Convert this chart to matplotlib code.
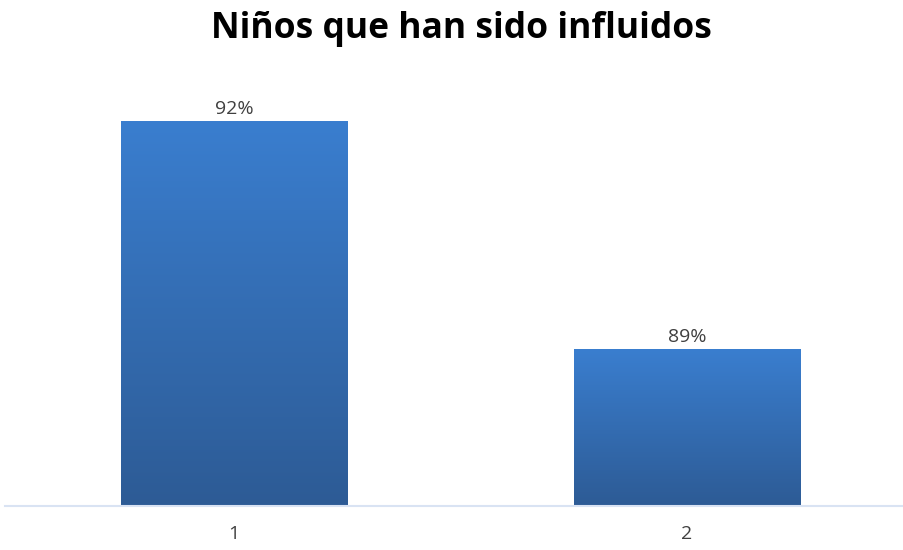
import numpy as np
import matplotlib.pyplot as plt
from matplotlib.colors import LinearSegmentedColormap

categories = ["1", "2"]
values = [92, 89]
labels = ["92%", "89%"]
title = "Niños que han sido influidos"

plt.rcParams["font.family"] = ["Open Sans", "DejaVu Sans"]

fig = plt.figure(figsize=(9.04, 5.5), dpi=100)
ax = fig.add_axes([5 / 904, 44 / 550, 899 / 904, 416 / 550])

x = np.arange(1, len(values) + 1)
bars = ax.bar(x, values, width=0.5, bottom=0, color="#3570B8", edgecolor="#8FB0DC", linewidth=0.6, zorder=2)

ax.set_xlim(0.494, 2.479)
ax.set_ylim(86.934, 92.41)

# vertical gradient inside each bar
cmap = LinearSegmentedColormap.from_list("grad", ["#2D5B95", "#3A7ECF"])
grad = np.linspace(0, 1, 256).reshape(-1, 1)
for b in bars:
    x0, w = b.get_x(), b.get_width()
    y1 = b.get_height()
    im = ax.imshow(grad, cmap=cmap, origin="lower", aspect="auto",
                   extent=[x0, x0 + w, ax.get_ylim()[0], y1], zorder=3)
    im.set_clip_path(b)

for xi, v, lab in zip(x, values, labels):
    ax.annotate(lab, (xi, v), xytext=(0, 2), textcoords="offset points",
                ha="center", va="bottom", fontsize=14, color="#404040")

ax.set_xticks(x)
ax.set_xticklabels(categories, fontsize=14, color="#404040")
ax.tick_params(axis="x", length=0, pad=13.5)
ax.set_yticks([])
for s in ["top", "right", "left"]:
    ax.spines[s].set_visible(False)
ax.spines["bottom"].set_color("#D9E3F3")
ax.spines["bottom"].set_linewidth(1.5)
ax.spines["bottom"].set_zorder(4)

fig.text(461 / 904, 1 - 29 / 550, title, ha="center", va="center", fontsize=25.5, fontweight="bold", color="#000000")

fig.savefig("out.png", dpi=100)
